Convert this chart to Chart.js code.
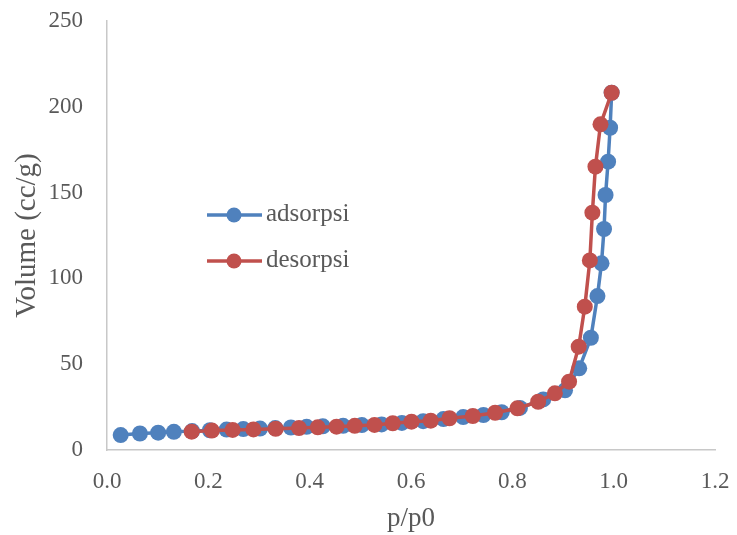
<!DOCTYPE html>
<html>
<head>
<meta charset="utf-8">
<title>Isoterm adsorpsi-desorpsi</title>
<script src="https://cdn.jsdelivr.net/npm/chart.js@4/dist/chart.umd.min.js"></script>
<style>
  html, body { margin: 0; padding: 0; background: #fff; }
  #wrap { width: 737px; height: 535px; position: relative; }
</style>
</head>
<body>
<div id="wrap"><canvas id="iso-chart"></canvas></div>
<script>
// p/p0 and volume
const adsP = [0.027, 0.065, 0.101, 0.132, 0.168, 0.203, 0.236, 0.269, 0.302, 0.332, 0.363, 0.394,
  0.426, 0.466, 0.503, 0.542, 0.582, 0.624, 0.664, 0.703, 0.743, 0.779, 0.815, 0.861, 0.904,
  0.932, 0.955, 0.968, 0.976, 0.981, 0.984, 0.989, 0.993, 0.996];
const adsV = [8.7, 9.6, 10.1, 10.6, 11.0, 11.5, 11.9, 12.2, 12.5, 12.8, 13.1, 13.5,
  13.8, 14.1, 14.5, 14.9, 15.8, 16.8, 18.0, 19.2, 20.4, 22.0, 24.5, 29.5, 34.8,
  47.6, 65.4, 89.7, 108.8, 128.8, 148.6, 168.0, 187.8, 208.2];

const desP = [0.996, 0.974, 0.964, 0.958, 0.953, 0.943, 0.931, 0.912, 0.884, 0.851, 0.810,
  0.766, 0.722, 0.676, 0.639, 0.601, 0.564, 0.528, 0.489, 0.453, 0.416, 0.379, 0.333,
  0.289, 0.248, 0.207, 0.167];
const desV = [208.2, 189.8, 165.1, 138.3, 110.5, 83.5, 60.2, 39.8, 33.0, 28.1, 24.3,
  21.7, 19.8, 18.5, 17.1, 16.5, 15.6, 14.6, 14.1, 13.6, 13.2, 12.8, 12.4,
  12.0, 11.7, 11.3, 10.7];

const seriesNames = ['adsorpsi', 'desorpsi'];
const xTicks = [0, 0.2, 0.4, 0.6, 0.8, 1.0, 1.2];
const yTicks = [0, 50, 100, 150, 200, 250];

const FONT = "'Liberation Serif', 'DejaVu Serif', serif";
const TEXT = '#595959';

const toPoints = (xs, ys) => xs.map((x, i) => ({ x, y: ys[i] }));

// Legend sits inside the plot, like the Excel original
const insideLegend = {
  id: 'insideLegend',
  afterDatasetsDraw(chart) {
    const ctx = chart.ctx;
    const rows = [215, 261];
    chart.data.datasets.forEach((ds, i) => {
      const y = rows[i];
      ctx.save();
      ctx.strokeStyle = ds.borderColor;
      ctx.lineWidth = 3.5;
      ctx.beginPath();
      ctx.moveTo(207, y);
      ctx.lineTo(262, y);
      ctx.stroke();
      ctx.fillStyle = ds.backgroundColor;
      ctx.beginPath();
      ctx.arc(234, y, 7.5, 0, Math.PI * 2);
      ctx.fill();
      ctx.fillStyle = TEXT;
      ctx.font = '25px ' + FONT;
      ctx.textBaseline = 'middle';
      ctx.fillText(ds.label, 266, y - 1);
      ctx.restore();
    });
  }
};

const canvas = document.getElementById('iso-chart');
new Chart(canvas, {
  type: 'scatter',
  data: {
    datasets: [
      {
        label: seriesNames[0],
        data: toPoints(adsP, adsV),
        showLine: true,
        borderColor: '#4F81BD',
        backgroundColor: '#4F81BD',
        borderWidth: 3.5,
        pointRadius: 8,
        pointHoverRadius: 8,
        pointBorderWidth: 0,
        tension: 0,
        order: 2,
      },
      {
        label: seriesNames[1],
        data: toPoints(desP, desV),
        showLine: true,
        borderColor: '#C0504D',
        backgroundColor: '#C0504D',
        borderWidth: 3.5,
        pointRadius: 8,
        pointHoverRadius: 8,
        pointBorderWidth: 0,
        tension: 0,
        order: 1,
      },
    ],
  },
  options: {
    responsive: true,
    maintainAspectRatio: false,
    animation: false,
    layout: { padding: { top: 21, right: 22, left: 0, bottom: 0 } },
    plugins: {
      legend: { display: false },
      tooltip: { enabled: false },
    },
    scales: {
      x: {
        type: 'linear',
        min: 0,
        max: 1.2,
        afterBuildTicks: (scale) => { scale.ticks = xTicks.map((v) => ({ value: v })); },
        afterFit: (scale) => {
          scale.height = 85;
          scale.paddingLeft = 0;
          scale.paddingRight = 0;
        },
        grid: { display: false, drawTicks: false },
        border: { display: true, color: '#C8C8C8', width: 1.5 },
        ticks: {
          padding: 18,
          color: TEXT,
          font: { family: FONT, size: 23 },
          maxRotation: 0,
          callback: (v) => Number(v).toFixed(1),
        },
        title: {
          display: true,
          text: 'p/p0',
          color: TEXT,
          font: { family: FONT, size: 27 },
          padding: 0,
        },
      },
      y: {
        type: 'linear',
        min: 0,
        max: 250,
        afterBuildTicks: (scale) => { scale.ticks = yTicks.map((v) => ({ value: v })); },
        afterFit: (scale) => {
          scale.width = 107;
          scale.paddingTop = 0;
          scale.paddingBottom = 0;
        },
        grid: { display: false, drawTicks: false },
        border: { display: true, color: '#C8C8C8', width: 1.5 },
        ticks: {
          padding: 24,
          color: TEXT,
          font: { family: FONT, size: 23 },
        },
        title: {
          display: true,
          text: 'Volume (cc/g)',
          color: TEXT,
          font: { family: FONT, size: 29 },
          padding: 10,
        },
      },
    },
  },
  plugins: [insideLegend],
});
</script>
</body>
</html>
